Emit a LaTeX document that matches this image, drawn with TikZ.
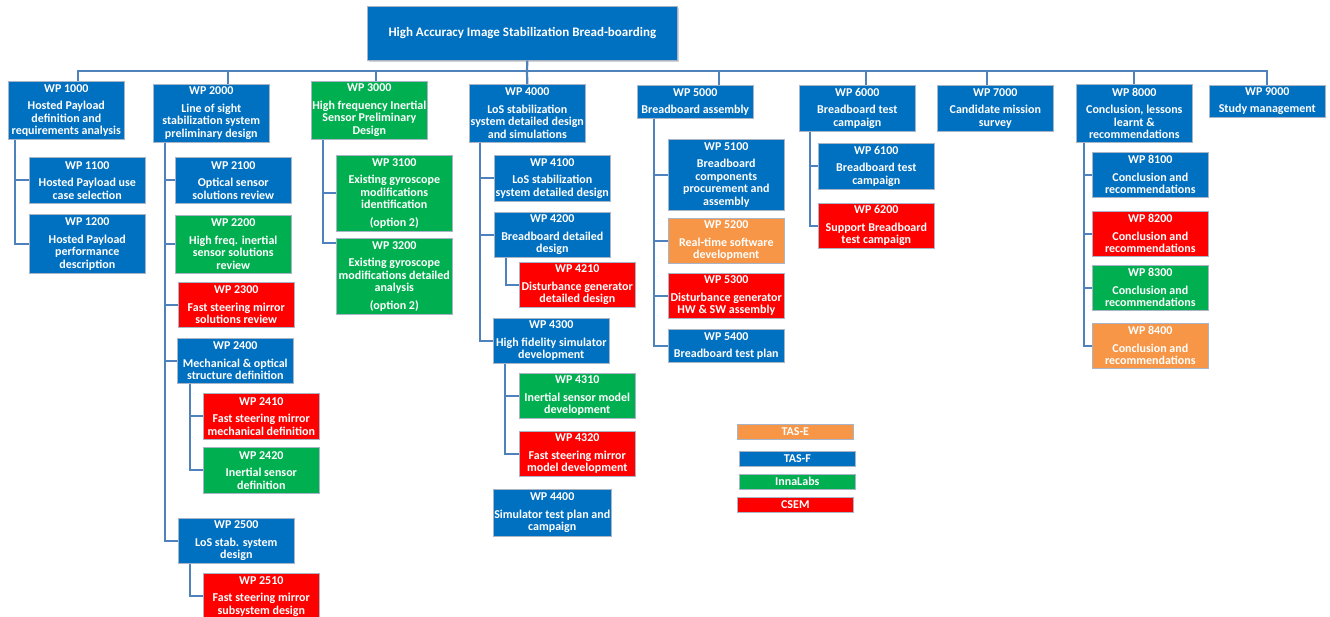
\documentclass[tikz,border=0pt]{standalone}
\usepackage{fontspec}
\setmainfont{Carlito}
\usetikzlibrary{shadows}
\definecolor{tasfblue}{HTML}{0070C0}
\definecolor{innagreen}{HTML}{00B050}
\definecolor{csemred}{HTML}{FF0000}
\definecolor{taseorange}{HTML}{F79646}
\definecolor{linkblue}{HTML}{4F81BD}
\definecolor{boxedge}{HTML}{A9B4C6}
\newcommand{\wpfont}{\bfseries\fontsize{12}{12.5}\selectfont}

\begin{document}
\begin{tikzpicture}[x=1pt,y=-1pt,
    wp/.style={draw=boxedge, line width=0.6pt, fill=tasfblue, text=white, font=\wpfont,
               align=center, anchor=north west, minimum width=116pt, inner sep=1pt},
    tase/.style={fill=taseorange},
    inna/.style={fill=innagreen},
    csem/.style={fill=csemred},
    head/.style={wp, minimum width=310pt, minimum height=54pt,
                 font=\bfseries\fontsize{13}{14}\selectfont,
                 drop shadow={opacity=0.35, shadow xshift=2pt, shadow yshift=-2pt}},
    key/.style={wp, minimum height=15pt, inner sep=0pt, minimum width=116pt},
    link/.style={draw=linkblue, line width=2.2pt}]
    \useasboundingbox (0,0) rectangle (1330,616);

    \node[head] (top) at (367,6) {High Accuracy Image Stabilization Bread-boarding};

    % top level work packages
    \node[wp, minimum height=58pt] (w1000) at (8,81) {WP 1000\\[5pt]Hosted Payload\\definition and\\requirements analysis};
    \node[wp, minimum height=58pt] (w2000) at (153,84) {WP 2000\\[5pt]Line of sight\\stabilization system\\preliminary design};
    \node[wp, inna, minimum height=58pt] (w3000) at (311,81) {WP 3000\\[5pt]High frequency Inertial\\Sensor Preliminary\\Design};
    \node[wp, minimum height=58pt] (w4000) at (469,84) {WP 4000\\[5pt]LoS stabilization\\system detailed design\\and simulations};
    \node[wp, minimum height=33pt] (w5000) at (637,85) {WP 5000\\[5pt]Breadboard assembly};
    \node[wp, minimum height=46pt] (w6000) at (799,85) {WP 6000\\[5pt]Breadboard test\\campaign};
    \node[wp, minimum height=46pt] (w7000) at (937,85) {WP 7000\\[5pt]Candidate mission\\survey};
    \node[wp, minimum height=58pt] (w8000) at (1076,84) {WP 8000\\[5pt]Conclusion, lessons\\learnt \&\\recommendations};
    \node[wp, minimum height=32pt] (w9000) at (1209,85) {WP 9000\\[5pt]Study management};

    % WP 1000
    \node[wp, minimum height=46pt] (w1100) at (29,157) {WP 1100\\[5pt]Hosted Payload use\\case selection};
    \node[wp, minimum height=59pt] (w1200) at (29,214) {WP 1200\\[5pt]Hosted Payload\\performance\\description};

    % WP 2000
    \node[wp, minimum height=46pt] (w2100) at (175,157) {WP 2100\\[5pt]Optical sensor\\solutions review};
    \node[wp, inna, minimum height=58pt] (w2200) at (175,215) {WP 2200\\[5pt]High freq. inertial\\sensor solutions\\review};
    \node[wp, csem, minimum height=45pt] (w2300) at (178,282) {WP 2300\\[5pt]Fast steering mirror\\solutions review};
    \node[wp, minimum height=45pt] (w2400) at (177,338) {WP 2400\\[5pt]Mechanical \& optical\\structure definition};
    \node[wp, csem, minimum height=46pt] (w2410) at (203,393) {WP 2410\\[5pt]Fast steering mirror\\mechanical definition};
    \node[wp, inna, minimum height=46pt] (w2420) at (203,447) {WP 2420\\[5pt]Inertial sensor\\definition};
    \node[wp, minimum height=45pt] (w2500) at (178,518) {WP 2500\\[5pt]LoS stab. system\\design};
    \node[wp, csem, minimum height=46pt] (w2510) at (203,573) {WP 2510\\[5pt]Fast steering mirror\\subsystem design};

    % WP 3000
    \node[wp, inna, minimum height=76pt] (w3100) at (336,155) {WP 3100\\[5pt]Existing gyroscope\\modifications\\identification\\[5pt](option 2)};
    \node[wp, inna, minimum height=76pt] (w3200) at (336,238) {WP 3200\\[5pt]Existing gyroscope\\modifications detailed\\analysis\\[5pt](option 2)};

    % WP 4000
    \node[wp, minimum height=46pt] (w4100) at (494,155) {WP 4100\\[5pt]LoS stabilization\\system detailed design};
    \node[wp, minimum height=45pt] (w4200) at (494,212) {WP 4200\\[5pt]Breadboard detailed\\design};
    \node[wp, csem, minimum height=45pt] (w4210) at (519,262) {WP 4210\\[5pt]Disturbance generator\\detailed design};
    \node[wp, minimum height=45pt] (w4300) at (493,318) {WP 4300\\[5pt]High fidelity simulator\\development};
    \node[wp, inna, minimum height=45pt] (w4310) at (519,373) {WP 4310\\[5pt]Inertial sensor model\\development};
    \node[wp, csem, minimum height=45pt] (w4320) at (519,431) {WP 4320\\[5pt]Fast steering mirror\\model development};
    \node[wp, minimum height=47pt] (w4400) at (493,489) {WP 4400\\[5pt]Simulator test plan and\\campaign};

    % WP 5000
    \node[wp, minimum height=71pt] (w5100) at (668,139) {WP 5100\\[5pt]Breadboard\\components\\procurement and\\assembly};
    \node[wp, tase, minimum height=45pt] (w5200) at (668,218) {WP 5200\\[5pt]Real-time software\\development};
    \node[wp, csem, minimum height=45pt] (w5300) at (668,273) {WP 5300\\[5pt]Disturbance generator\\HW \& SW assembly};
    \node[wp, minimum height=33pt] (w5400) at (668,329) {WP 5400\\[5pt]Breadboard test plan};

    % WP 6000
    \node[wp, minimum height=46pt] (w6100) at (818,143) {WP 6100\\[5pt]Breadboard test\\campaign};
    \node[wp, csem, minimum height=45pt] (w6200) at (818,203) {WP 6200\\[5pt]Support Breadboard\\test campaign};

    % WP 8000
    \node[wp, minimum height=45pt] (w8100) at (1092,152) {WP 8100\\[5pt]Conclusion and\\recommendations};
    \node[wp, csem, minimum height=45pt] (w8200) at (1092,211) {WP 8200\\[5pt]Conclusion and\\recommendations};
    \node[wp, inna, minimum height=45pt] (w8300) at (1092,265) {WP 8300\\[5pt]Conclusion and\\recommendations};
    \node[wp, tase, minimum height=45pt] (w8400) at (1092,323) {WP 8400\\[5pt]Conclusion and\\recommendations};

    % legend
    \node[key, tase] (kTASE) at (737,424) {TAS-E};
    \node[key] (kTASF) at (739,451) {TAS-F};
    \node[key, inna] (kInna) at (739,474) {InnaLabs};
    \node[key, csem] (kCSEM) at (737,497) {CSEM};

    % connectors
    \coordinate (bus) at (527,71);
    \draw[link] ([xshift=5pt]top.south) -- (bus);
    \draw[link] (bus) -| ([xshift=12pt]w1000.north);
    \draw[link] (bus) -| ([xshift=17pt]w2000.north);
    \draw[link] (bus) -| ([xshift=7pt]w3000.north);
    \draw[link] (bus) -- (w4000.north);
    \draw[link] (bus) -| ([xshift=24pt]w5000.north);
    \draw[link] (bus) -| ([xshift=9pt]w6000.north);
    \draw[link] (bus) -| ([xshift=-8pt]w7000.north);
    \draw[link] (bus) -| (w8000.north);
    \draw[link] (bus) -| (w9000.north);

    \foreach \c in {w1100,w1200}
        \draw[link] ([xshift=7pt]w1000.south west) |- (\c.west);
    \foreach \c in {w2100,w2200,w2300,w2400,w2500}
        \draw[link] ([xshift=12pt]w2000.south west) |- (\c.west);
    \foreach \c in {w2410,w2420}
        \draw[link] ([xshift=13pt]w2400.south west) |- (\c.west);
    \draw[link] ([xshift=12pt]w2500.south west) |- (w2510.west);
    \draw[link] ([xshift=12pt]w3000.south west) |- (w3100.west);
    \draw[link] ([xshift=12pt]w3000.south west) |- ([yshift=-5pt]w3200.north west);
    \foreach \c in {w4100,w4200,w4300}
        \draw[link] ([xshift=11pt]w4000.south west) |- (\c.west);
    \draw[link] ([xshift=12pt]w4200.south west) |- (w4210.west);
    \foreach \c in {w4310,w4320}
        \draw[link] ([xshift=12pt]w4300.south west) |- (\c.west);
    \foreach \c in {w5100,w5200,w5300,w5400}
        \draw[link] ([xshift=17pt]w5000.south west) |- (\c.west);
    \foreach \c in {w6100,w6200}
        \draw[link] ([xshift=11pt]w6000.south west) |- (\c.west);
    \foreach \c in {w8100,w8200,w8300,w8400}
        \draw[link] ([xshift=8pt]w8000.south west) |- (\c.west);
\end{tikzpicture}
\end{document}
